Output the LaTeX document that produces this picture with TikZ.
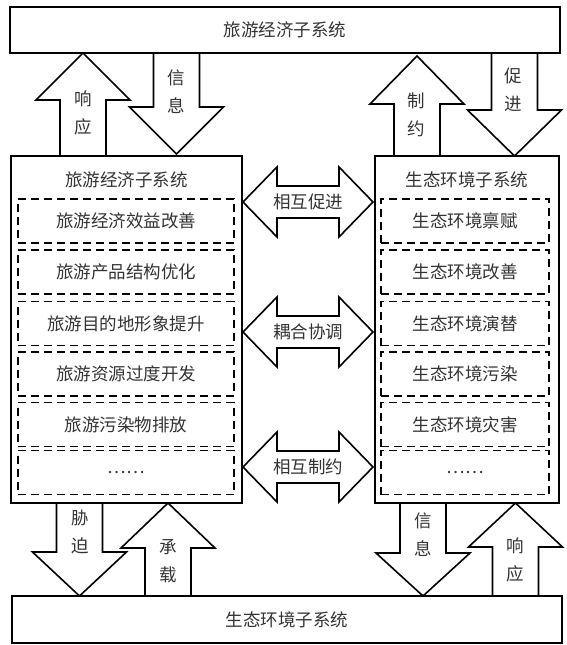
\documentclass[tikz,border=0pt]{standalone}
\usepackage{fontspec}
\newfontfamily\cjk{Noto Sans CJK SC}
\newcommand\myup[5]{% cx, ytip, ybot, headlen, name
  \draw[arr] (#1-23,#3) -- (#1-23,#2+#4) -- (#1-47,#2+#4) -- (#1,#2)
    -- (#1+47,#2+#4) -- (#1+23,#2+#4) -- (#1+23,#3);
  \coordinate (#5) at (#1,#2);}
\newcommand\mydown[5]{% cx, ytop, ytip, headlen, name
  \draw[arr] (#1-23,#2) -- (#1-23,#3-#4) -- (#1-47,#3-#4) -- (#1,#3)
    -- (#1+47,#3-#4) -- (#1+23,#3-#4) -- (#1+23,#2);
  \coordinate (#5) at (#1,#3);}
\newcommand\mydbl[3]{% cy, label, name
  \draw[arr] (243,#1) -- (277,#1-35) -- (277,#1-16) -- (339,#1-16) -- (339,#1-35)
    -- (373,#1) -- (339,#1+35) -- (339,#1+16) -- (277,#1+16) -- (277,#1+35) -- cycle;
  \node[lbl] (#3) at (308,#1) {#2};}
\begin{document}
\begin{tikzpicture}[x=1pt,y=-1pt,line width=1.6pt,
  lbl/.style={font=\cjk\fontsize{17.5}{28}\selectfont, text=black!80, inner sep=0, align=center},
  sysbox/.style={draw, lbl},
  subbox/.style={draw, dash pattern=on 8pt off 5pt, lbl, minimum height=44},
  arr/.style={line join=miter}]
\useasboundingbox (0,0) rectangle (567,645);
% top and bottom systems
\node[sysbox, minimum width=550, minimum height=46] (top) at (285,30) {旅游经济子系统};
\node[sysbox, minimum width=550, minimum height=47] (bot) at (287,619.5) {生态环境子系统};
% big boxes
\node[draw, minimum width=231, minimum height=347, inner sep=0] (L) at (126.5,329.5) {};
\node[draw, minimum width=184, minimum height=347, inner sep=0] (R) at (467,329.5) {};
\node[lbl] (Lt) at (126.5,180) {旅游经济子系统};
\node[lbl] (Rt) at (467,180) {生态环境子系统};
% left sub boxes
\node[subbox, minimum width=216] (l1) at (126,221) {旅游经济效益改善};
\node[subbox, minimum width=216] (l2) at (126,272) {旅游产品结构优化};
\node[subbox, minimum width=216] (l3) at (126,323.5) {旅游目的地形象提升};
\node[subbox, minimum width=216] (l4) at (126,374) {旅游资源过度开发};
\node[subbox, minimum width=216] (l5) at (126,424.5) {旅游污染物排放};
\node[subbox, minimum width=216] (l6) at (126,472.5) {……};
% right sub boxes
\node[subbox, minimum width=168] (r1) at (465,221) {生态环境禀赋};
\node[subbox, minimum width=168] (r2) at (465,272) {生态环境改善};
\node[subbox, minimum width=168] (r3) at (465,323.5) {生态环境演替};
\node[subbox, minimum width=168] (r4) at (465,374) {生态环境污染};
\node[subbox, minimum width=168] (r5) at (465,424.5) {生态环境灾害};
\node[subbox, minimum width=168] (r6) at (465,472.5) {……};
% vertical block arrows (top)
\myup{83}{53}{156}{47}{a1}
\node[lbl] (t1) at (83,112.5) {响\\应};
\mydown{176.5}{53}{154}{47}{a2}
\node[lbl] (t2) at (176.5,91.5) {信\\息};
\myup{417}{56}{156}{48}{a3}
\node[lbl] (t3) at (416,115) {制\\约};
\mydown{514.5}{53}{156}{46}{a4}
\node[lbl] (t4) at (513,89.5) {促\\进};
% vertical block arrows (bottom)
\mydown{79.5}{503}{596}{44}{b1}
\node[lbl] (u1) at (80,531.5) {胁\\迫};
\myup{168}{503}{596}{45}{b2}
\node[lbl] (u2) at (168,561) {承\\载};
\mydown{423}{503}{596}{43}{b3}
\node[lbl] (u3) at (423,534.5) {信\\息};
\myup{515.5}{503}{596}{44}{b4}
\node[lbl] (u4) at (515,559.5) {响\\应};
% horizontal double arrows
\mydbl{202}{相互促进}{m1}
\mydbl{332}{耦合协调}{m2}
\mydbl{467}{相互制约}{m3}
\end{tikzpicture}
\end{document}
